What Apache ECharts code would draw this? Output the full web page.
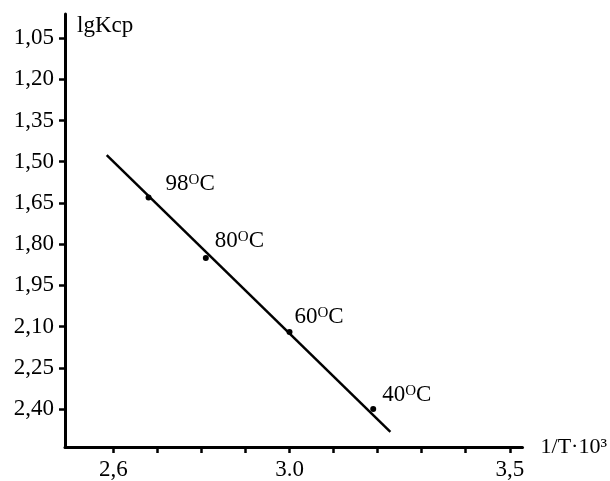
<!DOCTYPE html>
<html>
<head>
<meta charset="utf-8">
<script src="https://cdn.jsdelivr.net/npm/echarts@6/dist/echarts.min.js"></script>
<style>
html,body{margin:0;padding:0;background:#fff;}
#chart{width:610px;height:481px;}
</style>
</head>
<body>
<div id="chart"></div>
<script>
// ---- data ----
var lineX = [2.585, 3.229];
var lineY = [1.476, 2.483];
var pointX = [2.68, 2.81, 3.00, 3.19];
var pointY = [1.63, 1.85, 2.12, 2.40];
var tempLabels = ['98', '80', '60', '40'];
var yTicks = [1.05, 1.20, 1.35, 1.50, 1.65, 1.80, 1.95, 2.10, 2.25, 2.40];
var xTicks = [2.6, 2.7, 2.8, 2.9, 3.0, 3.1, 3.2, 3.3, 3.4, 3.5];
var xLabelValues = [2.6, 3.0, 3.5];
var xLabelTexts = ['2,6', '3.0', '3,5'];
var yName = 'lgKcp';
var xName = '1/T\u00b710\u00b3';

// ---- chart ----
var FONT = '"Liberation Serif", "Times New Roman", serif';
var TXT = '#000';
var FS = 23;
var labelOffsets = [[10, -13], [2, -17], [-2, -15], [2, -14]];

var chart = echarts.init(document.getElementById('chart'), null, {renderer: 'canvas'});

var lineData = lineX.map(function (x, i) { return [x, lineY[i]]; });
var pointData = pointX.map(function (x, i) {
  return {
    value: [x, pointY[i]],
    name: tempLabels[i],
    label: {offset: labelOffsets[i]}
  };
});

var option = {
  backgroundColor: '#fff',
  animation: false,
  grid: {left: 65, top: 14, width: 464, height: 433, containLabel: false},
  xAxis: {
    type: 'value',
    min: 2.4903,
    max: 3.529,
    name: xName,
    nameLocation: 'end',
    nameGap: 18,
    nameTextStyle: {fontFamily: FONT, fontSize: 22, color: TXT},
    axisLine: {show: true, lineStyle: {color: '#000', width: 3}},
    axisTick: {show: true, inside: false, length: 6, lineStyle: {color: '#000', width: 2.5}, customValues: xTicks},
    axisLabel: {
      show: true, margin: 11, fontFamily: FONT, fontSize: FS, color: TXT,
      customValues: xLabelValues,
      formatter: function (v) {
        for (var i = 0; i < xLabelValues.length; i++) {
          if (Math.abs(v - xLabelValues[i]) < 1e-6) return xLabelTexts[i];
        }
        return '';
      }
    },
    splitLine: {show: false}
  },
  yAxis: {
    type: 'value',
    inverse: true,
    min: 0.9627,
    max: 2.538,
    name: yName,
    nameLocation: 'start',
    nameGap: -12,
    nameTextStyle: {fontFamily: FONT, fontSize: FS, color: TXT, align: 'left', verticalAlign: 'middle', padding: [0, 0, 0, 12]},
    axisLine: {show: true, lineStyle: {color: '#000', width: 3}},
    axisTick: {show: true, inside: false, length: 6, lineStyle: {color: '#000', width: 2.5}, customValues: yTicks},
    axisLabel: {
      show: true, margin: 11, fontFamily: FONT, fontSize: FS, color: TXT,
      customValues: yTicks,
      formatter: function (v) { return v.toFixed(2).replace('.', ','); }
    },
    splitLine: {show: false}
  },
  series: [
    {
      type: 'line',
      data: lineData,
      symbol: 'none',
      lineStyle: {color: '#000', width: 2.5},
      z: 2
    },
    {
      type: 'scatter',
      data: pointData,
      symbol: 'circle',
      symbolSize: 6,
      itemStyle: {color: '#000', opacity: 1},
      z: 3,
      label: {
        show: true,
        position: 'right',
        distance: 4,
        color: TXT,
        opacity: 1,
        textBorderWidth: 0,
        formatter: function (p) { return '{n|' + p.name + '}{s|O}{n|C}'; },
        rich: {
          n: {fontFamily: FONT, fontSize: FS, color: TXT, lineHeight: 23},
          s: {fontFamily: FONT, fontSize: 15, color: TXT, lineHeight: 15, verticalAlign: 'top', padding: [0, 0, 1, 0]}
        }
      }
    }
  ]
};
chart.setOption(option);
</script>
</body>
</html>
